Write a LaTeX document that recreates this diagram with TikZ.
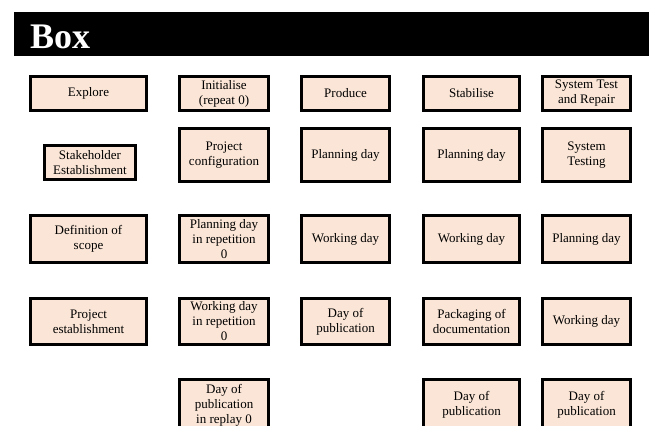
\documentclass[tikz,border=0pt]{standalone}
\usepackage{fontspec}
\setmainfont{Liberation Serif}
\definecolor{peach}{HTML}{FBE5D6}

\begin{document}
\begin{tikzpicture}[
    x=1pt, y=-1pt,
    box/.style={draw, rectangle, line width=3pt, fill=peach, align=center, inner sep=1pt,
        font=\fontsize{13}{15}\selectfont},
    colA/.style={box, minimum width=116},
    colB/.style={box, minimum width=89},
    colC/.style={box, minimum width=88},
    colD/.style={box, minimum width=96},
    colE/.style={box, minimum width=88},
    rowA/.style={minimum height=34},
    rowB/.style={minimum height=53},
    rowC/.style={minimum height=47},
    rowD/.style={minimum height=46},
    rowE/.style={minimum height=51}
]
    \useasboundingbox (0,0) rectangle (649,426);

    % title bar
    \node[fill=black, inner sep=0, minimum width=635, minimum height=44, anchor=north west] (bar) at (14,12) {};
    \node[text=white, font=\fontsize{36}{40}\selectfont\bfseries, anchor=base west, inner sep=0] (title) at (30,48) {Box};

    % row 1
    \node[colA, rowA] (explore) at (88.5,93.5) {Explore};
    \node[colB, rowA] (init) at (224,93.5) {Initialise\\(repeat 0)};
    \node[colC, rowA] (produce) at (345.5,93.5) {Produce};
    \node[colD, rowA] (stabilise) at (471.5,93.5) {Stabilise};
    \node[colE, rowA] (systest) at (586.5,93.5) {System Test\\and Repair};

    % row 2
    \node[box, minimum width=91, minimum height=34] (stake) at (90,162.5) {Stakeholder\\Establishment};
    \node[colB, rowB] (config) at (224,155) {Project\\configuration};
    \node[colC, rowB] (plan1) at (345.5,155) {Planning day};
    \node[colD, rowB] (plan2) at (471.5,155) {Planning day};
    \node[colE, rowB] (testing) at (586.5,155) {System\\Testing};

    % row 3
    \node[colA, rowC] (scope) at (88.5,239) {Definition of\\scope};
    \node[colB, rowC] (planrep) at (224,239) {Planning day\\in repetition\\0};
    \node[colC, rowC] (work1) at (345.5,239) {Working day};
    \node[colD, rowC] (work2) at (471.5,239) {Working day};
    \node[colE, rowC] (plan3) at (586.5,239) {Planning day};

    % row 4
    \node[colA, rowD] (establish) at (88.5,321.5) {Project\\establishment};
    \node[colB, rowD] (workrep) at (224,321.5) {Working day\\in repetition\\0};
    \node[colC, rowD] (pub1) at (345.5,321.5) {Day of\\publication};
    \node[colD, rowD] (packaging) at (471.5,321.5) {Packaging of\\documentation};
    \node[colE, rowD] (work3) at (586.5,321.5) {Working day};

    % row 5 (runs past the lower edge)
    \node[colB, rowE] (pubrep) at (224,405) {Day of\\publication\\in replay 0};
    \node[colD, rowE] (pub2) at (471.5,405) {Day of\\publication};
    \node[colE, rowE] (pub3) at (586.5,405) {Day of\\publication};
\end{tikzpicture}
\end{document}
